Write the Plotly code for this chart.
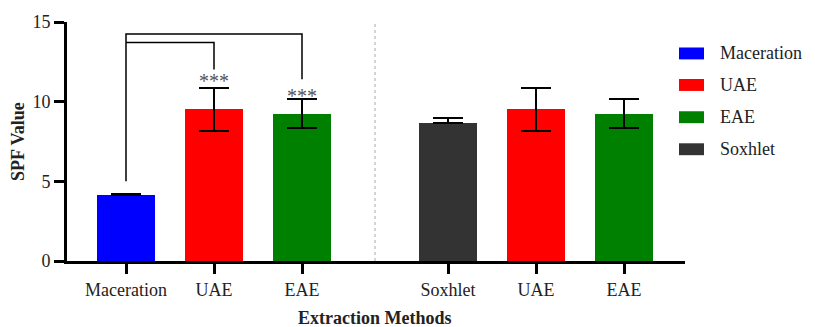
import plotly.graph_objects as go

# ---- data ----
categories = ["Maceration", "UAE", "EAE", "Soxhlet", "UAE", "EAE"]
spf_values = [4.14, 9.53, 9.24, 8.65, 9.53, 9.24]
err_plus = [0.06, 1.32, 0.93, 0.32, 1.32, 0.93]
err_minus = [0.0, 1.35, 0.87, 0.0, 1.35, 0.87]
bar_colors = ["#0000FF", "#FF0000", "#008000", "#333333", "#FF0000", "#008000"]
legend_names = ["Maceration", "UAE", "EAE", "Soxhlet"]
legend_colors = ["#0000FF", "#FF0000", "#008000", "#333333"]
y_ticks = [0, 5, 10, 15]

# ---- layout constants ----
GROUP_GAP = 0.66
xpos = [i if i < 3 else i + GROUP_GAP for i in range(len(categories))]
divider_x = (xpos[2] + xpos[3]) / 2

W, H = 815, 327
ML, MR, MT, MB = 67, 130, 20, 66
plot_w = W - ML - MR
plot_h = H - MT - MB
x_range = [-0.6705, -0.6705 + plot_w / 88.0]

FONT = "Liberation Serif, Times New Roman, serif"
TXT = "#222222"

fig = go.Figure()
fig.add_trace(go.Bar(
    x=xpos, y=spf_values, width=0.655,
    marker=dict(color=bar_colors, line=dict(width=0)),
    error_y=dict(type="data", symmetric=False, array=err_plus, arrayminus=err_minus,
                 color="black", thickness=2, width=15),
    showlegend=False,
))

shapes = []
# divider
shapes.append(dict(type="line", xref="x", yref="y", x0=divider_x, x1=divider_x, y0=0, y1=15,
                   line=dict(color="#aaaaaa", width=1, dash="dot")))
# significance brackets
br_line = dict(color="black", width=1.5)
shapes.append(dict(type="path", xref="x", yref="y",
                   path=f"M {xpos[0]},5.0 L {xpos[0]},14.24 L {xpos[2]},14.24 L {xpos[2]},11.4",
                   line=br_line))
shapes.append(dict(type="path", xref="x", yref="y",
                   path=f"M {xpos[0]},13.72 L {xpos[1]},13.72 L {xpos[1]},12.02",
                   line=br_line))

annotations = []
annotations.append(dict(x=xpos[1], y=11.3, xref="x", yref="y", text="***", showarrow=False,
                        font=dict(family=FONT, size=20, color="#555555"), yanchor="middle"))
annotations.append(dict(x=xpos[2], y=10.33, xref="x", yref="y", text="***", showarrow=False,
                        font=dict(family=FONT, size=20, color="#555555"), yanchor="middle"))

# custom legend
def px_x(p):
    return (p - ML) / plot_w

def px_y(p):
    return (H - MB - p) / plot_h

row_y = [51.7, 83.5, 116, 148.3]
for name, col, ry in zip(legend_names, legend_colors, row_y):
    shapes.append(dict(type="rect", xref="paper", yref="paper",
                       x0=px_x(679), x1=px_x(704), y0=px_y(ry + 6), y1=px_y(ry - 6),
                       fillcolor=col, line=dict(width=0)))
    annotations.append(dict(x=px_x(718), y=px_y(ry), xref="paper", yref="paper",
                            text=name, showarrow=False, xanchor="left", yanchor="middle",
                            font=dict(family=FONT, size=18, color=TXT)))

# axis titles
annotations.append(dict(x=px_x(18), y=px_y(141), xref="paper", yref="paper",
                        text="<b>SPF Value</b>", textangle=-90, showarrow=False,
                        xanchor="center", yanchor="middle",
                        font=dict(family=FONT, size=18, color=TXT)))
annotations.append(dict(x=px_x(374.5), y=px_y(318), xref="paper", yref="paper",
                        text="<b>Extraction Methods</b>", showarrow=False,
                        xanchor="center", yanchor="middle",
                        font=dict(family=FONT, size=18, color=TXT)))

fig.update_layout(
    width=W, height=H,
    margin=dict(l=ML, r=MR, t=MT, b=MB, pad=0),
    paper_bgcolor="white", plot_bgcolor="white",
    font=dict(family=FONT, size=18, color=TXT),
    shapes=shapes, annotations=annotations,
    showlegend=False,
    bargap=0,
    xaxis=dict(range=x_range, tickvals=xpos, ticktext=categories,
               showline=True, linecolor="black", linewidth=3,
               ticks="outside", ticklen=10, tickwidth=3, tickcolor="black",
               showgrid=False, zeroline=False, fixedrange=True,
               tickfont=dict(family=FONT, size=18, color=TXT)),
    yaxis=dict(range=[0, 15], tickvals=y_ticks,
               showline=True, linecolor="black", linewidth=3,
               ticks="outside", ticklen=10, tickwidth=3, tickcolor="black",
               showgrid=False, zeroline=False, fixedrange=True,
               tickfont=dict(family=FONT, size=18, color=TXT)),
)

fig.write_html("out.html", config={"displayModeBar": False},
               post_script="document.body.style.margin='0';document.body.style.padding='0';")
